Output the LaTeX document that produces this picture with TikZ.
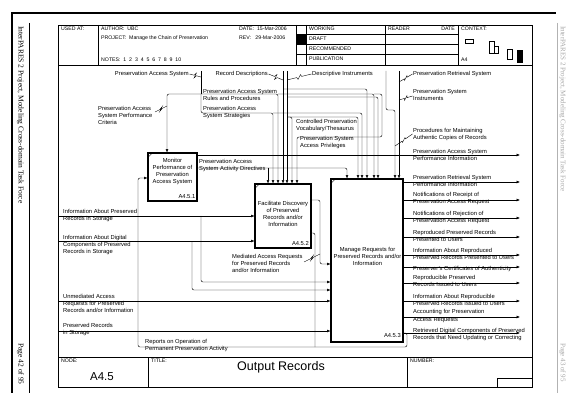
\documentclass[tikz,border=0pt]{standalone}
\usepackage{fontspec}
\setmainfont{Liberation Sans}
\newfontfamily\marginfont{Liberation Serif}
\usetikzlibrary{arrows.meta,calc}
\newcommand\lblfont{\fontsize{5.8}{7}\selectfont}
\newcommand\hdrfont{\fontsize{5.2}{6}\selectfont}
% IDEF0 squiggle joining a label to its arrow
\newcommand\zz[2]{\draw[sq] #1 -- ($#1!0.4!#2$) -- ($#1!0.5!#2+(1.2,-2.4)$) -- ($#1!0.5!#2+(-1.2,2.4)$) -- ($#1!0.6!#2$) -- #2;}
\begin{document}
\begin{tikzpicture}[x=1pt,y=-1pt,
  ln/.style={line width=0.45pt, rounded corners=2pt},
  arr/.style={ln, -{Latex[length=3.4pt,width=2.8pt]}},
  sq/.style={line width=0.4pt},
  box/.style={draw, line width=1.1pt, inner sep=0pt},
  boxtxt/.style={font=\lblfont, align=center, inner sep=0pt},
  boxnum/.style={font=\lblfont, inner sep=0pt, anchor=south east},
  lbl/.style={font=\lblfont, align=left, inner sep=0pt, anchor=west},
  hdr/.style={font=\hdrfont, inner sep=0pt, anchor=west},
  frm/.style={line width=0.5pt}]
\useasboundingbox (0,0) rectangle (568,393);
\fill[white] (0,0) rectangle (568,393);

% page margins
\draw[line width=1.3pt] (12,393) -- (12,13) -- (556,13);
\draw[line width=0.4pt] (29,23) -- (29,393);
\node[rotate=-90, anchor=west, inner sep=0pt, font=\marginfont\fontsize{7.5}{9}\selectfont] (mtext) at (20.5,26) {InterPARES 2 Project, Modeling Cross-domain Task Force};
\node[rotate=-90, anchor=west, inner sep=0pt, font=\marginfont\fontsize{7.5}{9}\selectfont] (mpage) at (20.5,343) {Page 42 of 95};
\draw[gray!60, line width=0.4pt] (557,23) -- (557,393);
\node[rotate=-90, anchor=west, inner sep=0pt, text=gray!70, font=\marginfont\fontsize{7}{9}\selectfont] (rtext) at (562.5,26) {InterPARES 2 Project, Modeling Cross-domain Task Force};
\node[rotate=-90, anchor=west, inner sep=0pt, text=gray!70, font=\marginfont\fontsize{7}{9}\selectfont] (rpage) at (562.5,343) {Page 43 of 95};

% form frame
\draw[frm] (58,25) rectangle (532,387);
\draw[frm] (58,65) -- (532,65);
\foreach \x in {98,296,306,385,458} \draw[frm] (\x,25) -- (\x,65);
\foreach \y in {34,44,54} \draw[frm] (296,\y) -- (458,\y);
\fill (296,34) rectangle (306,44);
\draw[frm] (58,357) -- (532,357);
\draw[frm] (148,357) -- (148,387);
\draw[frm] (407,357) -- (407,387);
\draw[frm] (497,387) |- (532,378);

% header texts
\node[hdr] (usedat) at (61,29) {USED AT:};
\node[hdr] (author) at (101,29) {AUTHOR:\ \ UBC};
\node[hdr] (project) at (101,38) {PROJECT:\ \ Manage the Chain of Preservation};
\node[hdr] (notes) at (101,60) {NOTES:\ \ 1\ \ 2\ \ 3\ \ 4\ \ 5\ \ 6\ \ 7\ \ 8\ \ 9\ \ 10};
\node[hdr] (date) at (239,29) {DATE:\ \ 15-Mar-2006};
\node[hdr] (rev) at (239,38) {REV:\ \ \ 29-Mar-2006};
\node[hdr] (working) at (309,29) {WORKING};
\node[hdr] (draft) at (309,39) {DRAFT};
\node[hdr] (recom) at (309,49) {RECOMMENDED};
\node[hdr] (publ) at (309,59) {PUBLICATION};
\node[hdr] (reader) at (388,29) {READER};
\node[hdr, anchor=east] (rdate) at (455,29) {DATE};
\node[hdr] (context) at (461,29) {CONTEXT:};
\node[hdr] (ctxa) at (461,60) {A4};
% context sketch
\draw[frm] (465,39) rectangle (473,43);
\draw[frm] (489,41) rectangle (494,53);
\draw[frm] (494,46) rectangle (498,53);
\draw[frm] (507,49) rectangle (512,59);
\fill (517,50) rectangle (523,63);

% footer texts
\node[hdr] (nodel) at (61,361) {NODE:};
\node[hdr] (titlel) at (151,361) {TITLE:};
\node[hdr] (numl) at (410,361) {NUMBER:};
\node[inner sep=0pt, font=\fontsize{11.5}{13}\selectfont] (nodeno) at (102,377) {A4.5};
\node[inner sep=0pt, font=\fontsize{12.5}{14}\selectfont] (title) at (281,367) {Output Records};

% activity boxes
\node[box, minimum width=49pt, minimum height=48pt] (b1) at (172.5,177) {};
\node[boxtxt] (b1t) at (172.5,171.5) {Monitor\\Performance of\\Preservation\\Access System};
\node[boxnum] (b1n) at (195.5,198.5) {A4.5.1};
\node[box, minimum width=56pt, minimum height=64pt] (b2) at (283,216) {};
\node[boxtxt] (b2t) at (283,214) {Facilitate Discovery\\of Preserved\\Records and/or\\Information};
\node[boxnum] (b2n) at (309,246) {A4.5.2};
\node[box, minimum width=72pt, minimum height=163pt] (b3) at (367,260.5) {};
\node[boxtxt] (b3t) at (367.5,256) {Manage Requests for\\Preserved Records and/or\\Information};
\node[boxnum] (b3n) at (401,338) {A4.5.3};
\foreach \b in {b1,b2,b3} \draw[line width=0.4pt] ($(\b.north west)+(1.5,4)$) -- ($(\b.north west)+(4,1.5)$);

% controls from the top
\draw[ln] (201,71) -- (201,94);
\draw[arr] (201,94) -- (201,113) -- (273,113) -- (b2.north -| 273,0);
\draw[arr] (273,113) -| (b3.north -| 362,0);
\draw[arr] (201,94) -| (b1.north -| 167,0);
\draw[arr] (201,94) -| (b2.north -| 278,0);
\draw[arr] (278,94) -| (b3.north -| 374,0);
\draw[arr] (374,94) -- (382,94) -- (382,137) -- (297,137) -- (b2.north -| 297,0);
\draw[arr] (283,71) -- (b2.north -| 283,0);
\draw[arr] (283,89) -| (b3.north -| 367,0);
\draw[arr] (287,71) -- (b2.north -| 287,0);
\draw[arr] (287,97) -| (b3.north -| 378,0);
\draw[arr] (287,117) -| (b3.north -| 358,0);
\draw[arr] (287,117) -| (b2.north -| 292,0);
\draw[arr] (386,71) -- (386,110) -- (395,110) -- (b3.north -| 395,0);
\draw[arr] (399,71) -- (b3.north -| 399,0);

% outputs of A4.5.1
\draw[arr] (b1.east |- 0,168) -| (b3.north -| 347,0);
\draw[arr] (268,168) -- (b2.north -| 268,0);
\draw[arr] (b1.east |- 0,155) -- (520,155);

% inputs from the left
\draw[arr] (58,216) -- (b2.west |- 0,216);
\draw[arr] (201,216) |- (b3.west |- 0,282);
\draw[arr] (58,241) -- (b2.west |- 0,241);
\draw[arr] (192,241) |- (b3.west |- 0,290);
\draw[arr] (58,301) -- (b3.west |- 0,301);
\draw[arr] (58,331) -- (b3.west |- 0,331);

% outputs of A4.5.2
\draw[arr] (b2.east |- 0,200) -- (320,200) -- (320,264) -- (b3.west |- 0,264);
\draw[ln] (b2.east |- 0,233) -- (315,233) -- (315,347);

% outputs of A4.5.3
\foreach \y in {182,200,218,237,255,267,283,301,317,333}
  \draw[arr] (b3.east |- 0,\y) -- (520,\y);
\draw[arr] (b3.east |- 0,333) -- (407,333) -- (407,347) -- (138,347) -- (138,178) -- (b1.west |- 0,178);

% arrow labels
\node[lbl, anchor=east] (lpas) at (189,74) {Preservation Access System};
\node[lbl, anchor=east] (lrd) at (268,74) {Record Descriptions};
\node[lbl] (ldi) at (312,74) {Descriptive Instruments};
\node[lbl] (lprs) at (413,74) {Preservation Retrieval System};
\node[lbl] (lpsi) at (413,94.5) {Preservation System\\Instruments};
\node[lbl] (lproc) at (413,134.5) {Procedures for Maintaining\\Authentic Copies of Records};
\node[lbl] (lpcrit) at (98,115) {Preservation Access\\System Performance\\Criteria};
\node[lbl] (lrules) at (203,94.5) {Preservation Access System\\Rules and Procedures};
\node[lbl] (lstrat) at (203,113) {Preservation Access\\System Strategies};
\node[lbl] (lcv) at (296,125.5) {Controlled Preservation\\Vocabulary/Thesaurus};
\node[lbl] (lpriv) at (300,143) {Preservation System\\Access Privileges};
\node[lbl] (lad) at (199,165.5) {Preservation Access\\System Activity Directives};
\node[lbl] (lperf) at (413,154.5) {Preservation Access System\\Performance Information};
\node[lbl] (lin1) at (63,215.5) {Information About Preserved\\Records in Storage};
\node[lbl] (lin2) at (63,244.5) {Information About Digital\\Components of Preserved\\Records in Storage};
\node[lbl] (lmed) at (232,263) {Mediated Access Requests\\for Preserved Records\\and/or Information};
\node[lbl] (lin3) at (63,303.5) {Unmediated Access\\Requests for Preserved\\Records and/or Information};
\node[lbl] (lin4) at (63,329.5) {Preserved Records\\in Storage};
\node[lbl] (lrep) at (145,345.5) {Reports on Operation of\\Permanent Preservation Activity};
\node[lbl] (lo1) at (413,181) {Preservation Retrieval System\\Performance Information};
\node[lbl] (lo2) at (413,199) {Notifications of Receipt of\\Preservation Access Request};
\node[lbl] (lo3) at (413,217.5) {Notifications of Rejection of\\Preservation Access Request};
\node[lbl] (lo4) at (413,235.5) {Reproduced Preserved Records\\Presented to Users};
\node[lbl] (lo5) at (413,253.5) {Information About Reproduced\\Preserved Records Presented to Users};
\node[lbl] (lo6) at (413,269) {Preserver's Certificates of Authenticity};
\node[lbl] (lo7) at (413,281) {Reproducible Preserved\\Records Issued to Users};
\node[lbl] (lo8) at (413,300) {Information About Reproducible\\Preserved Records Issued to Users};
\node[lbl] (lo9) at (413,316) {Accounting for Preservation\\Access Requests};
\node[lbl] (lo10) at (413,334.5) {Retrieved Digital Components of Preserved\\Records that Need Updating or Correcting};

% squiggles
\zz{(189.5,74)}{(201,77)}
\zz{(268.5,74)}{(283,80)}
\zz{(311.5,74)}{(287,80)}
\zz{(412.5,74)}{(399,82)}
\zz{(412.5,96)}{(399,100)}
\zz{(412.5,134)}{(395,146)}
\zz{(155,112)}{(167,106)}
\zz{(304,262)}{(320,254)}
\end{tikzpicture}
\end{document}
